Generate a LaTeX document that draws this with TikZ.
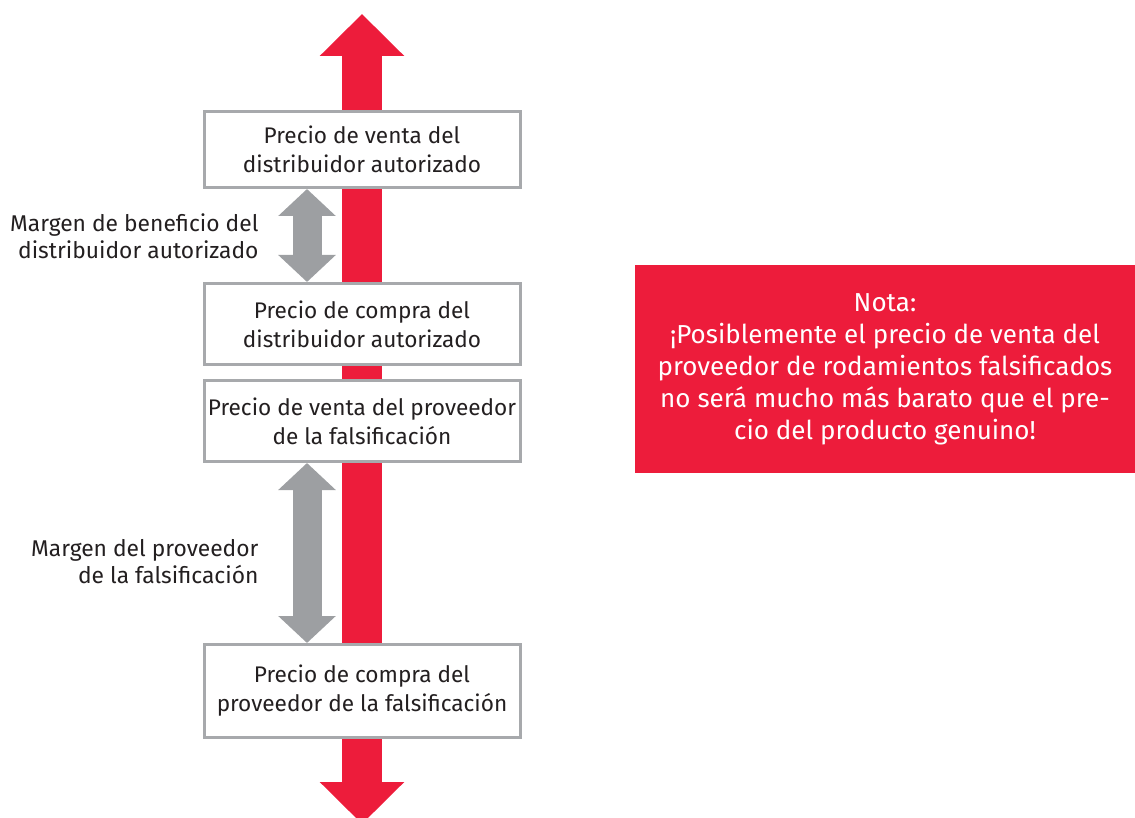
\documentclass[tikz,border=0pt]{standalone}
\usepackage{fontspec}
\setmainfont{Fira Sans}
\usepackage{xcolor}
\usetikzlibrary{arrows.meta,positioning}
\definecolor{notered}{HTML}{ED1C3B}
\definecolor{margray}{HTML}{9D9FA2}
\definecolor{boxgray}{HTML}{A7A9AC}
\definecolor{textdark}{HTML}{231F20}
\tikzset{pricebox/.style={rectangle,draw=boxgray,line width=3pt,fill=white,minimum width=316pt,align=center,font=\fontsize{22.6}{29}\selectfont,text=textdark},
  marlabel/.style={anchor=east,align=right,font=\fontsize{22.8}{27}\selectfont,text=textdark},
  bigarrow/.style={notered,line width=40pt,{Triangle[length=42pt,width=82pt]}-{Triangle[length=42pt,width=82pt]}},
  gapArrow/.style={margray,line width=29pt,{Triangle[length=27pt,width=56pt]}-{Triangle[length=27pt,width=56pt]}}}

\begin{document}
\begin{tikzpicture}[x=1pt,y=-1pt]
        \useasboundingbox (0,0) rectangle (1135,818);
        \coordinate (top) at (362,14);
        \coordinate (bot) at (362,824);
        \draw [bigarrow] (top) -- (bot);

        \node[pricebox,minimum height=76pt] (pv1) at (362,149.5) {Precio de venta del\\distribuidor autorizado};
        \node[pricebox,minimum height=81pt] (pc1) at (362,324) {Precio de compra del\\distribuidor autorizado};
        \node[pricebox,minimum height=81pt] (pv2) at (362,421) {Precio de venta del proveedor\\de la falsificación};
        \node[pricebox,minimum height=93pt] (pc2) at (362,691) {Precio de compra del\\proveedor de la falsificación};

        \draw [gapArrow] ([xshift=-55pt]pv1.south) -- ([xshift=-55pt]pc1.north);
        \draw [gapArrow] ([xshift=-55pt]pv2.south) -- ([xshift=-55pt]pc2.north);

        \node[marlabel] (m1) at (262,236) {Margen de beneficio del\\distribuidor autorizado};
        \node[marlabel] (m2) at (262,562) {Margen del proveedor\\de la falsificación};

        \node[rectangle,fill=notered,minimum width=500pt,minimum height=208pt,align=center,text=white,font=\fontsize{26}{32}\selectfont] (nota) at (885,369)
          {Nota:\\¡Posiblemente el precio de venta del\\proveedor de rodamientos falsificados\\no será mucho más barato que el pre-\\cio del producto genuino!};
    \end{tikzpicture}
\end{document}
